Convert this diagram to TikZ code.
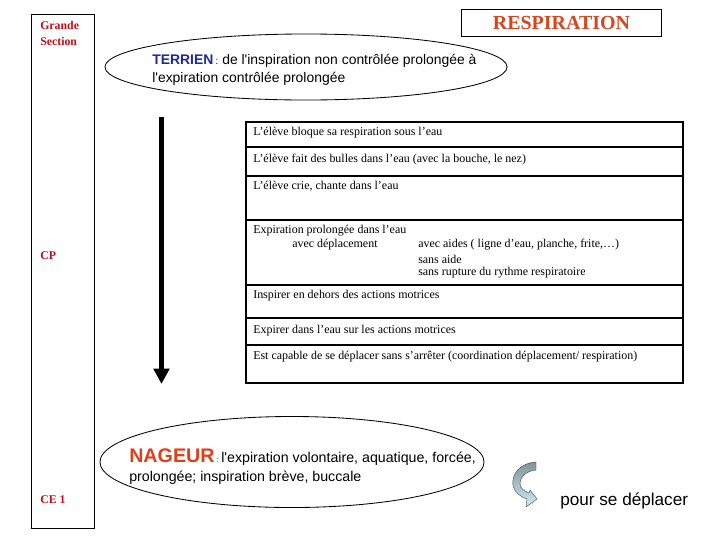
\documentclass[tikz,border=0pt]{standalone}
\usepackage{fontspec}
\setmainfont{Liberation Serif}
\newfontfamily\arialfont{Liberation Sans}
\usetikzlibrary{shapes.geometric,arrows.meta}
\definecolor{myclass}{rgb}{0.75,0.06,0.1}
\definecolor{mytitle}{rgb}{0.83,0.28,0.12}
\definecolor{myswim}{rgb}{0.88,0.25,0.1}
\definecolor{myland}{rgb}{0.12,0.16,0.6}
\definecolor{myarrowtop}{rgb}{0.5,0.58,0.6}
\definecolor{myarrowbot}{rgb}{0.8,0.93,0.96}

\begin{document}
\begin{tikzpicture}[x=0.025cm,y=-0.025cm,
    classlabel/.style={font=\fontsize{8.4}{11}\selectfont\bfseries,text=myclass,anchor=west,inner sep=0pt,align=left},
    rowtext/.style={font=\fontsize{8.5}{10}\selectfont,anchor=west,inner sep=0pt},
    rowbox/.style={draw,line width=1.3pt},
    stage/.style={draw,ellipse,line width=0.6pt,inner sep=0pt}]
  \useasboundingbox (0,0) rectangle (720,540);
  % classes
  \node[draw,line width=0.6pt,minimum width=1.575cm,minimum height=12.85cm,anchor=north west] (classes) at (31,14) {};
    \node[classlabel] (gs) at (40,33.5) {Grande\\Section};
    \node[classlabel] (cp) at (40,256) {CP};
    \node[classlabel] (ce) at (40,500) {CE 1};
  \node[draw,line width=0.7pt,minimum width=4.975cm,minimum height=0.675cm,font=\fontsize{14.2}{16}\selectfont\bfseries,text=mytitle] (title) at (561.5,22.5) {RESPIRATION};
  % terrien
  \node[stage,minimum width=10.05cm,minimum height=1.65cm] (terrien) at (306,67) {};
  \node[font=\arialfont\fontsize{9.9}{12.8}\selectfont,anchor=west,align=left,inner sep=0pt] (terrientext) at (152,69.5)
    {{\color{myland}\bfseries TERRIEN}\,{\scriptsize:} de l'inspiration non contrôlée prolongée à\\l'expiration contrôlée prolongée};
  % progression
  \coordinate (arrowtop) at (161.5,117);
  \coordinate (arrowend) at (161.5,384);
  \draw[line width=3.6pt,-{Triangle[width=11pt,length=11pt]}] (arrowtop) -- (arrowend);
  \foreach \ya/\yb in {122/147,147/176,176/220,220/285,285/318,318/345,345/383} {
    \draw[rowbox] (246,\ya) rectangle (683,\yb);}
  \node[rowtext] (r1) at (253,133) {L’élève bloque sa respiration sous l’eau};
  \node[rowtext] (r2) at (253,160) {L’élève fait des bulles dans l’eau (avec la bouche, le nez)};
  \node[rowtext] (r3) at (253,186) {L’élève crie, chante dans l’eau};
  \node[rowtext] (r4) at (253,231) {Expiration prolongée dans l’eau};
  \node[rowtext] (r4move) at (292,245) {avec déplacement};
  \node[rowtext] (r4aids) at (418,245) {avec aides ( ligne d’eau, planche, frite,…)};
  \node[rowtext] (r4free) at (418,259) {sans aide};
  \node[rowtext] (r4rhythm) at (418,273) {sans rupture du rythme respiratoire};
  \node[rowtext] (r5) at (253,296) {Inspirer en dehors des actions motrices};
  \node[rowtext] (r6) at (253,331) {Expirer dans l’eau sur les actions motrices};
  \node[rowtext] (r7) at (253,357) {Est capable de se déplacer sans s’arrêter (coordination déplacement/ respiration)};
  % nageur
  \node[stage,minimum width=9.6cm,minimum height=2.275cm] (nageur) at (292,462) {};
  \node[font=\arialfont\fontsize{10.1}{13.5}\selectfont,anchor=west,align=left,inner sep=0pt] (nageurtext) at (129,466.5)
    {{\fontsize{14}{14}\selectfont\bfseries\color{myswim}NAGEUR}\,{\tiny:}\,l'expiration volontaire, aquatique, forcée,\\prolongée; inspiration brève, buccale};
  \shade[top color=myarrowtop,bottom color=myarrowbot,draw=black!70,line width=0.3pt]
    (536,462) .. controls (520,463) and (511,474) .. (513,486)
    .. controls (515,493) and (521,497) .. (527,499) -- (526,507) -- (537,499) -- (530,490) -- (529,493)
    .. controls (524,491) and (520,488) .. (520,484) .. controls (520,476) and (527,471) .. (536,470) -- cycle;
  \node[font=\arialfont\fontsize{12.2}{14}\selectfont,anchor=west,inner sep=0pt] (move) at (560,501) {pour se déplacer};
\end{tikzpicture}
\end{document}
